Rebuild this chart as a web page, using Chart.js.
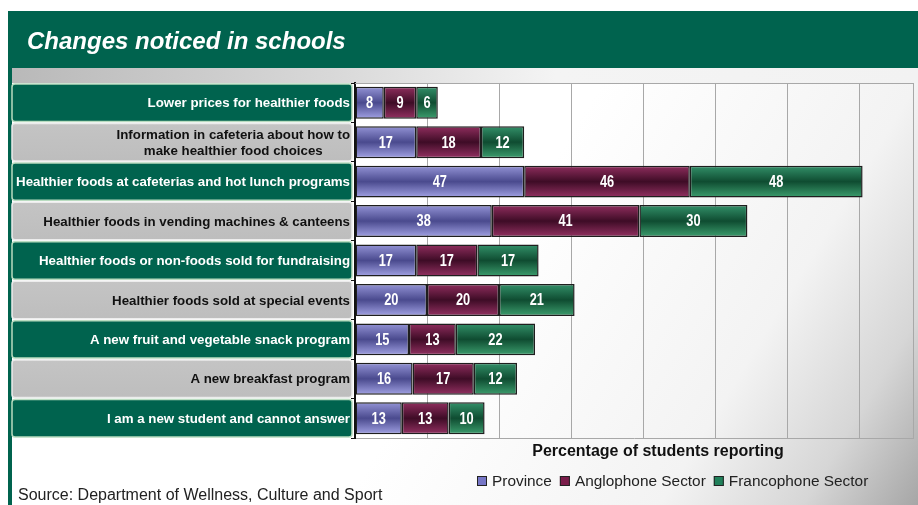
<!DOCTYPE html>
<html>
<head>
<meta charset="utf-8">
<script src="https://cdn.jsdelivr.net/npm/chart.js@4.4.1/dist/chart.umd.min.js"></script>
<style>
  html, body { margin: 0; padding: 0; background: #fff; overflow: hidden; }
  #wrap { width: 918px; height: 505px; position: relative; }
</style>
</head>
<body>
<div id="wrap"><canvas id="chart" width="918" height="505"></canvas></div>
<script>
// data
const categories = [
  ["Lower prices for healthier foods"],
  ["Information in cafeteria about how to", "make healthier food choices"],
  ["Healthier foods at cafeterias and hot lunch programs"],
  ["Healthier foods in vending machines & canteens"],
  ["Healthier foods or non-foods sold for fundraising"],
  ["Healthier foods sold at special events"],
  ["A new fruit and vegetable snack program"],
  ["A new breakfast program"],
  ["I am a new student and cannot answer"]
];
const province = [8, 17, 47, 38, 17, 20, 15, 16, 13];
const anglophone = [9, 18, 46, 41, 17, 20, 13, 17, 13];
const francophone = [6, 12, 48, 30, 17, 21, 22, 12, 10];
const seriesNames = ["Province", "Anglophone Sector", "Francophone Sector"];
const axisTitle = "Percentage of students reporting";
const chartTitle = "Changes noticed in schools";
const sourceText = "Source: Department of Wellness, Culture and Sport";
const axisMax = 155;

const GREEN = "#00634e";
const BAR_PCT = 0.81;
const FONT = "'Liberation Sans', Arial, sans-serif";

// top / middle / bottom colours of the shiny bars
const provinceStops = ["#9494d6", "#4a4a8e", "#a2a2e4"];
const angloStops = ["#902e5e", "#3e0c26", "#943162"];
const francoStops = ["#33916a", "#0f4c31", "#3c9e6e"];
const legendColors = ["#7676c6", "#7a1d4a", "#20805a"];

// vertical gradient for one bar, built from the y scale
function barFill(stops) {
  return function(context) {
    const chart = context.chart;
    const area = chart.chartArea;
    if (!area || !chart.scales.y) return stops[1];
    const yc = chart.scales.y.getPixelForValue(context.dataIndex);
    const half = (area.bottom - area.top) / categories.length * BAR_PCT / 2;
    const g = chart.ctx.createLinearGradient(0, yc - half, 0, yc + half);
    g.addColorStop(0, stops[0]);
    g.addColorStop(0.5, stops[1]);
    g.addColorStop(1, stops[2]);
    return g;
  };
}

function roundRect(ctx, x, y, w, h, r) {
  ctx.beginPath();
  ctx.moveTo(x + r, y);
  ctx.lineTo(x + w - r, y);
  ctx.quadraticCurveTo(x + w, y, x + w, y + r);
  ctx.lineTo(x + w, y + h - r);
  ctx.quadraticCurveTo(x + w, y + h, x + w - r, y + h);
  ctx.lineTo(x + r, y + h);
  ctx.quadraticCurveTo(x, y + h, x, y + h - r);
  ctx.lineTo(x, y + r);
  ctx.quadraticCurveTo(x, y, x + r, y);
  ctx.closePath();
}

// frame, title, label panels
const backdrop = {
  id: "backdrop",
  beforeDraw(chart) {
    const ctx = chart.ctx;
    const area = chart.chartArea;
    const W = chart.width, H = chart.height;
    ctx.save();
    ctx.fillStyle = "#fff";
    ctx.fillRect(0, 0, W, H);

    // green frame + title bar
    ctx.fillStyle = GREEN;
    ctx.fillRect(8, 11, W - 8, H - 11);

    // inner grey/white panel, darker toward the bottom right
    const bg = ctx.createLinearGradient(500, 250, W, H);
    bg.addColorStop(0, "#ffffff");
    bg.addColorStop(0.55, "#f3f3f3");
    bg.addColorStop(0.8, "#d6d6d6");
    bg.addColorStop(1, "#a6a6a6");
    ctx.fillStyle = bg;
    ctx.fillRect(12, 68, W - 12, H - 68);

    // grey band on top of the labels
    const band = ctx.createLinearGradient(12, 0, W, 0);
    band.addColorStop(0, "#b9b9b9");
    band.addColorStop(0.35, "#d8d8d8");
    band.addColorStop(0.6, "#f4f4f4");
    band.addColorStop(1, "#f2f2f2");
    ctx.fillStyle = band;
    ctx.fillRect(12, 68, W - 12, area.top - 68);

    ctx.fillStyle = "#fff";
    ctx.font = "italic bold 24px " + FONT;
    ctx.textBaseline = "alphabetic";
    ctx.textAlign = "left";
    ctx.fillText(chartTitle, 27, 49);

    // label panels, one per category
    const yScale = chart.scales.y;
    const step = (area.bottom - area.top) / categories.length;
    ctx.font = "bold 13.3px " + FONT;
    for (let i = 0; i < categories.length; i++) {
      const yc = yScale.getPixelForValue(i);
      const top = yc - step / 2 + 1;
      const green = i % 2 === 0;
      roundRect(ctx, 12, top, 340, step - 2, 3);
      if (green) {
        ctx.fillStyle = GREEN;
      } else {
        const pg = ctx.createLinearGradient(0, top, 0, top + step);
        pg.addColorStop(0, "#c4c4c4");
        pg.addColorStop(1, "#bdbdbd");
        ctx.fillStyle = pg;
      }
      ctx.fill();
      ctx.lineWidth = 1.5;
      ctx.strokeStyle = green ? "#b9dcc0" : "#ececec";
      ctx.stroke();

      const lines = categories[i];
      let wmax = 0;
      for (const l of lines) wmax = Math.max(wmax, ctx.measureText(l).width);
      const cx = 350 - wmax / 2;
      ctx.fillStyle = green ? "#fff" : "#111";
      ctx.textAlign = "center";
      ctx.textBaseline = "middle";
      const lh = 16;
      for (let j = 0; j < lines.length; j++) {
        ctx.fillText(lines[j], cx, yc + (j - (lines.length - 1) / 2) * lh + 1);
      }
    }
    ctx.restore();
  },
  beforeDatasetsDraw(chart) {
    const ctx = chart.ctx;
    const area = chart.chartArea;
    ctx.save();
    ctx.strokeStyle = "#a8a8a8";
    ctx.lineWidth = 1;
    ctx.beginPath();
    ctx.moveTo(area.left, area.top + 0.5);
    ctx.lineTo(area.right, area.top + 0.5);
    ctx.stroke();
    ctx.restore();
  },
  afterDraw(chart) {
    const ctx = chart.ctx;
    ctx.save();
    // axis title
    ctx.fillStyle = "#111";
    ctx.font = "bold 16px " + FONT;
    ctx.textAlign = "center";
    ctx.textBaseline = "middle";
    ctx.fillText(axisTitle, 658, 452);

    // legend
    ctx.font = "15.4px " + FONT;
    ctx.textAlign = "left";
    let x = 477;
    for (let i = 0; i < seriesNames.length; i++) {
      ctx.fillStyle = legendColors[i];
      ctx.fillRect(x, 476, 10, 10);
      ctx.strokeStyle = "#222";
      ctx.lineWidth = 1;
      ctx.strokeRect(x + 0.5, 476.5, 9, 9);
      ctx.fillStyle = "#222";
      ctx.fillText(seriesNames[i], x + 15, 481.5);
      x += 15 + ctx.measureText(seriesNames[i]).width + 8;
    }

    // source
    ctx.fillStyle = "#222";
    ctx.font = "16px " + FONT;
    ctx.fillText(sourceText, 18, 496);
    ctx.restore();
  }
};

// white numbers in the middle of each segment (narrowed Arial-like bold)
const valueLabels = {
  id: "valueLabels",
  afterDatasetsDraw(chart) {
    const ctx = chart.ctx;
    ctx.save();
    ctx.fillStyle = "#fff";
    ctx.font = "bold 16px " + FONT;
    ctx.textAlign = "center";
    ctx.textBaseline = "middle";
    const sx = 0.8;
    chart.data.datasets.forEach((ds, di) => {
      const meta = chart.getDatasetMeta(di);
      meta.data.forEach((bar, i) => {
        const p = bar.getProps(["x", "y", "base"], true);
        const cx = (p.x + p.base) / 2;
        ctx.save();
        ctx.translate(cx, p.y + 1);
        ctx.scale(sx, 1);
        ctx.fillText(String(ds.data[i]), 0, 0);
        ctx.restore();
      });
    });
    ctx.restore();
  }
};

function makeDataset(label, data, stops) {
  return {
    label: label,
    data: data,
    backgroundColor: barFill(stops),
    borderColor: "#1e1e1e",
    borderWidth: 1.5,
    borderSkipped: false,
    barPercentage: BAR_PCT,
    categoryPercentage: 1
  };
}

new Chart(document.getElementById("chart"), {
  type: "bar",
  data: {
    labels: categories,
    datasets: [
      makeDataset(seriesNames[0], province, provinceStops),
      makeDataset(seriesNames[1], anglophone, angloStops),
      makeDataset(seriesNames[2], francophone, francoStops)
    ]
  },
  options: {
    indexAxis: "y",
    responsive: false,
    animation: false,
    layout: { padding: { left: 351, top: 83, right: 5, bottom: 67 } },
    plugins: {
      legend: { display: false },
      tooltip: { enabled: false }
    },
    scales: {
      x: {
        stacked: true,
        min: 0,
        max: axisMax,
        ticks: { display: false, stepSize: 20 },
        grid: { color: "#a8a8a8", drawTicks: false },
        border: { display: true, color: "#a8a8a8" }
      },
      y: {
        stacked: true,
        ticks: { display: false },
        grid: { drawOnChartArea: false, drawTicks: true, tickLength: 4, color: "#111", offset: true },
        border: { color: "#111", width: 2 }
      }
    }
  },
  plugins: [backdrop, valueLabels]
});
</script>
</body>
</html>
